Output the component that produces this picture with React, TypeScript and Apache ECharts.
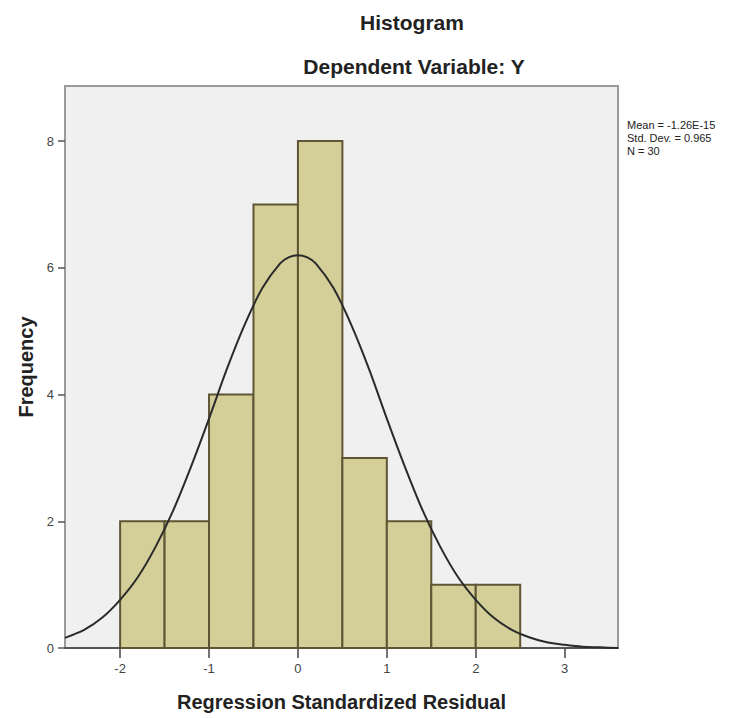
import React, { useEffect, useRef } from "react";
import * as echarts from "echarts";

const binStarts = [-2.0, -1.5, -1.0, -0.5, 0.0, 0.5, 1.0, 1.5, 2.0];
const binEnds = [-1.5, -1.0, -0.5, 0.0, 0.5, 1.0, 1.5, 2.0, 2.5];
const counts = [2, 2, 4, 7, 8, 3, 2, 1, 1];

const curveX = [-2.62, -2.4, -2.2, -2.0, -1.8, -1.6, -1.4, -1.2, -1.0, -0.8, -0.6, -0.4, -0.2, -0.1, 0.0, 0.1, 0.2, 0.4, 0.6, 0.8, 1.0, 1.2, 1.4, 1.6, 1.8, 2.0, 2.2, 2.4, 2.6, 2.8, 3.0, 3.2, 3.4, 3.6];
const curveY = [0.16, 0.29, 0.48, 0.76, 1.12, 1.6, 2.18, 2.87, 3.62, 4.4, 5.1, 5.68, 6.07, 6.17, 6.2, 6.17, 6.07, 5.68, 5.1, 4.4, 3.62, 2.87, 2.18, 1.6, 1.12, 0.76, 0.48, 0.29, 0.17, 0.09, 0.05, 0.02, 0.01, 0.0];

const xTicks = [-2, -1, 0, 1, 2, 3];
const yTicks = [0, 2, 4, 6, 8];

const titleText = "Histogram";
const subtitleText = "Dependent Variable: Y";
const statsLines = ["Mean = -1.26E-15", "Std. Dev. = 0.965", "N = 30"];
const xTitle = "Regression Standardized Residual";
const yTitle = "Frequency";

const FONT = '"Liberation Sans", Arial, sans-serif';

export default function App() {
  const ref = useRef<HTMLDivElement>(null);
  useEffect(() => {
    document.body.style.margin = "0";
    const chart = echarts.init(ref.current!, null, { renderer: "svg" });
    chart.setOption({
      animation: false,
      grid: {
        left: 65,
        right: 131,
        top: 86,
        bottom: 70,
        show: true,
        backgroundColor: "#f0f0f0",
        borderColor: "#9a9a9a",
        borderWidth: 2,
      },
      graphic: [
        {
          type: "text",
          x: 412,
          y: 22,
          style: { text: titleText, font: `bold 21px ${FONT}`, fill: "#222", textAlign: "center", textVerticalAlign: "middle" },
        },
        {
          type: "text",
          x: 414,
          y: 66,
          style: { text: subtitleText, font: `bold 21px ${FONT}`, fill: "#222", textAlign: "center", textVerticalAlign: "middle" },
        },
        ...statsLines.map((t, i) => ({
          type: "text",
          x: 627,
          y: 125 + i * 13,
          style: { text: t, font: `11px ${FONT}`, fill: "#222", textAlign: "left", textVerticalAlign: "middle" },
        })),
      ],
      xAxis: {
        type: "value",
        min: -2.62,
        max: 3.6,
        name: xTitle,
        nameLocation: "middle",
        nameGap: 44,
        nameTextStyle: { fontFamily: FONT, fontWeight: "bold", fontSize: 20, color: "#222" },
        axisLine: { show: true, onZero: false, lineStyle: { color: "#555", width: 2 } },
        axisTick: { show: true, customValues: xTicks, length: 10, lineStyle: { color: "#444", width: 1.5 } },
        axisLabel: { customValues: xTicks, color: "#444", fontSize: 13, fontFamily: FONT, margin: 14 },
        splitLine: { show: false },
      },
      yAxis: {
        type: "value",
        min: 0,
        max: 8.87,
        name: yTitle,
        nameLocation: "middle",
        nameGap: 27,
        nameTextStyle: { fontFamily: FONT, fontWeight: "bold", fontSize: 20, color: "#222" },
        axisLine: { show: true, onZero: false, lineStyle: { color: "#9a9a9a", width: 2 } },
        axisTick: { show: true, customValues: yTicks, length: 7, lineStyle: { color: "#555", width: 1.5 } },
        axisLabel: { customValues: yTicks, color: "#444", fontSize: 13, fontFamily: FONT, margin: 11 },
        splitLine: { show: false },
      },
      series: [
        {
          type: "custom",
          renderItem: (params: any, api: any) => {
            const x0 = api.value(0);
            const x1 = api.value(1);
            const c = api.value(2);
            const p0 = api.coord([x0, c]);
            const p1 = api.coord([x1, 0]);
            return {
              type: "rect",
              shape: { x: p0[0], y: p0[1], width: p1[0] - p0[0], height: p1[1] - p0[1] },
              style: { fill: "#d4cf98", stroke: "#5e5535", lineWidth: 2 },
            };
          },
          encode: { x: [0, 1], y: 2 },
          data: binStarts.map((s, i) => [s, binEnds[i], counts[i]]),
          z: 2,
        },
        {
          type: "line",
          data: curveX.map((x, i) => [x, curveY[i]]),
          smooth: 0.3,
          symbol: "none",
          lineStyle: { color: "#2a2a2a", width: 2 },
          z: 3,
        },
      ],
    });
    return () => chart.dispose();
  }, []);
  return <div ref={ref} style={{ width: 749, height: 718 }} />;
}
